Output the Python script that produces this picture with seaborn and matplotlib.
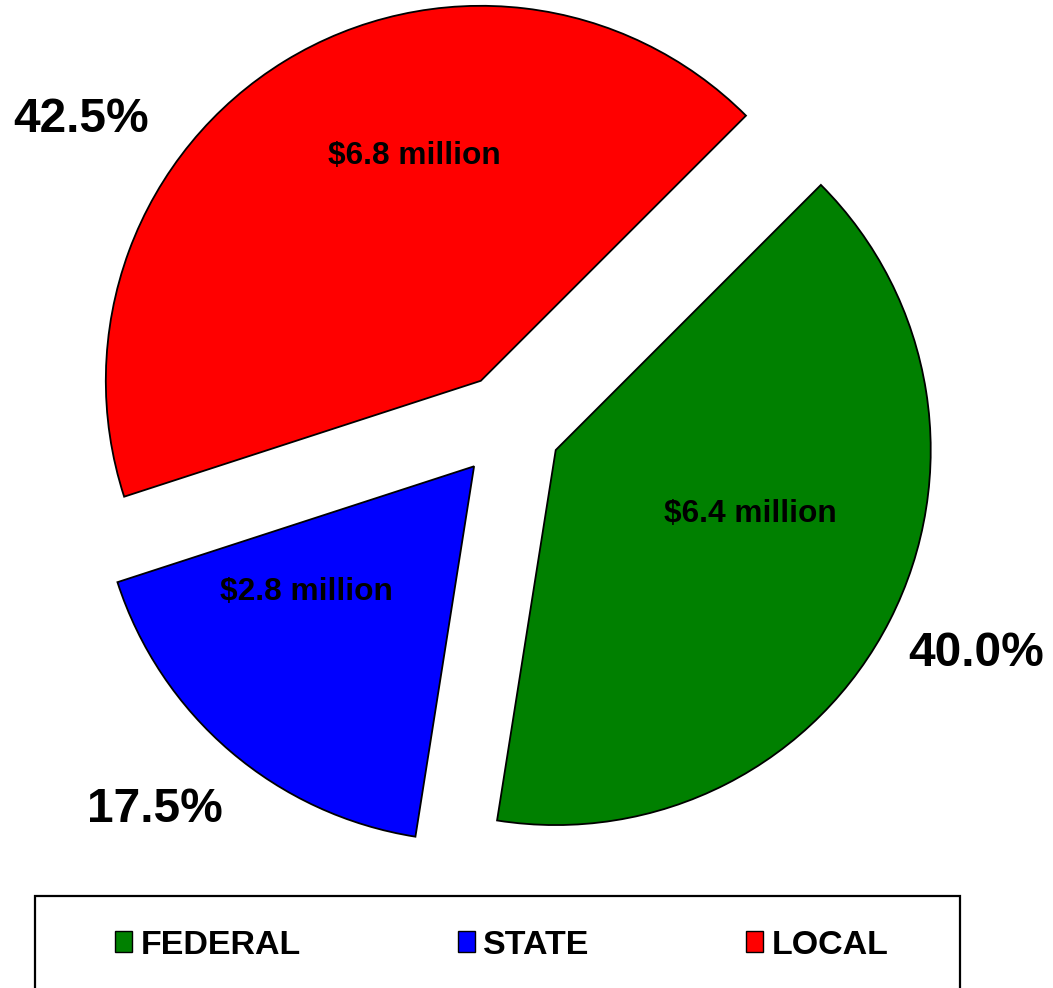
import matplotlib
matplotlib.use("Agg")
import matplotlib.pyplot as plt
from matplotlib.patches import Patch, Rectangle
import seaborn as sns

# ---- data ----
categories = ["FEDERAL", "STATE", "LOCAL"]
shares = [40.0, 17.5, 42.5]
amounts = ["$6.4 million", "$2.8 million", "$6.8 million"]
pct_labels = ["40.0%", "17.5%", "42.5%"]
colors = ["#008000", "#0000FF", "#FF0000"]

sns.set_theme(style="white")
plt.rcParams["font.family"] = ["Liberation Sans", "DejaVu Sans"]
plt.rcParams["text.color"] = "black"

W, H = 1053, 988
fig = plt.figure(figsize=(W / 100, H / 100), dpi=100)
ax = fig.add_axes([0, 0, 1, 1])

def P(x, y):
    return (x, H - y)

cx, cy = P(508.5, 426)
R = 375
EXPL = 53
wedges, _ = ax.pie(shares, colors=colors, startangle=45, counterclock=False,
                   explode=[EXPL] * 3, radius=R, center=(cx, cy),
                   wedgeprops=dict(edgecolor="black", linewidth=1.3),
                   frame=True)
ax.set_xlim(0, W)
ax.set_ylim(0, H)
ax.set_aspect("equal")
ax.axis("off")

# amount labels inside the wedges
amount_pos = [(750, 514), (306, 592), (414.5, 156)]
for txt, (x, y) in zip(amounts, amount_pos):
    ax.text(*P(x, y), txt, ha="center", va="center", fontsize=22.8,
            fontweight="bold", color="black")

# percentage labels outside
pct_pos = [(976.5, 653), (155, 810), (81.5, 120)]
for txt, (x, y) in zip(pct_labels, pct_pos):
    ax.text(*P(x, y), txt, ha="center", va="center", fontsize=34.5,
            fontweight="bold", color="black")

# legend box
ax.add_patch(Rectangle(P(35, 1000), 925, 1000 - 895.5, fill=False,
                       edgecolor="black", linewidth=1.6, clip_on=False))

handles = [Patch(facecolor=c, edgecolor="black", linewidth=1.0) for c in colors]
leg = fig.legend(handles, categories, loc="center", ncol=3,
                 bbox_to_anchor=(502 / W, 1 - 945 / H), frameon=False,
                 prop=dict(size=24.5, weight="bold"),
                 handlelength=0.5, handleheight=0.56, handletextpad=0.25,
                 columnspacing=4.6)
for t in leg.get_texts():
    t.set_color("black")

fig.savefig("out.png", dpi=100)
